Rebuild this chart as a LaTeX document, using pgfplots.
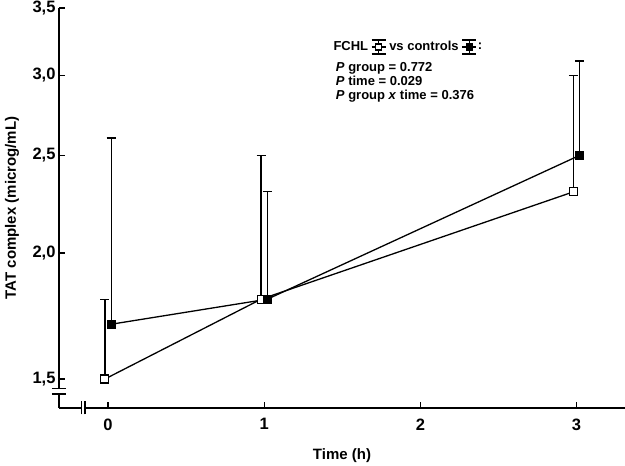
\documentclass[border=0pt]{standalone}
\usepackage{fontspec}
\setmainfont{Liberation Sans}
\usepackage{pgfplots}
\pgfplotsset{compat=1.18}

\begin{document}
\begin{tikzpicture}
\begin{axis}[
    scale only axis,
    width=566pt, height=400pt,
    ymode=log,
    xmin=-0.314, xmax=3.31,
    ymin=1.404, ymax=3.5,
    axis lines=left,
    axis line style={-, line width=1.4pt},
    tick style={line width=1.4pt, black},
    tick align=inside,
    major tick length=6pt,
    yminorticks=false,
    xtick={0,1,2,3},
    xticklabels={0,1,2,3},
    ytick={1.5,2,2.5,3,3.5},
    yticklabels={{1,5},{2,0},{2,5},{3,0},{3,5}},
    ticklabel style={font=\fontsize{16.5}{19}\selectfont\bfseries},
    xticklabel style={yshift=-7pt},
    xlabel={Time (h)},
    ylabel={TAT complex (microg/mL)},
    every axis x label/.style={at={(axis description cs:0.5,-0.118)}, anchor=center,
        font=\fontsize{15}{18}\selectfont\bfseries},
    every axis y label/.style={at={(axis description cs:-0.083,0.5)}, rotate=90, anchor=center,
        font=\fontsize{15}{18}\selectfont\bfseries},
    clip=false,
    legend columns=2,
    legend plot pos=right,
    legend cell align=left,
    legend style={draw=none, fill=none, inner sep=0pt,
        at={(axis description cs:0.482,0.9025)}, anchor=west,
        font=\fontsize{13}{15}\selectfont\bfseries,
        /tikz/column sep=1.5pt,
        nodes={inner sep=1.5pt}},
]

% FCHL
\addplot[black, line width=1.3pt, mark=square*, mark size=4pt,
    mark options={fill=white, line width=1.1pt},
    legend image code/.code={
        \draw[line width=1.1pt] (0pt,0pt)--(14pt,0pt);
        \draw[line width=1.1pt] (7pt,-7pt)--(7pt,7pt) (0pt,7pt)--(14pt,7pt) (0pt,-7pt)--(14pt,-7pt);
        \draw[line width=1.1pt, fill=white] (4pt,-3pt) rectangle (10pt,3pt);
    },
    error bars/.cd, y dir=plus, y explicit,
    error bar style={line width=1.3pt},
    error mark options={line width=1.3pt, mark size=4.5pt, rotate=90}]
coordinates {
    (-0.02,1.5) += (0,0.3)
    (0.98,1.8) += (0,0.7)
    (2.98,2.3) += (0,0.7)
};

% controls
\addplot[black, line width=1.3pt, mark=square*, mark size=4pt,
    mark options={fill=black, line width=1.1pt},
    legend image code/.code={
        \draw[line width=1.1pt] (0pt,0pt)--(14pt,0pt);
        \draw[line width=1.1pt] (7pt,-7pt)--(7pt,7pt) (0pt,7pt)--(14pt,7pt) (0pt,-7pt)--(14pt,-7pt);
        \draw[line width=1.1pt, fill=black] (4pt,-3pt) rectangle (10pt,3pt);
        \node[anchor=west, inner sep=1pt, font=\fontsize{13}{15}\selectfont\bfseries] at (14pt,0pt) {:};
    },
    error bars/.cd, y dir=plus, y explicit,
    error bar style={line width=1.3pt},
    error mark options={line width=1.3pt, mark size=4.5pt, rotate=90}]
coordinates {
    (0.02,1.7) += (0,0.9)
    (1.02,1.8) += (0,0.5)
    (3.02,2.5) += (0,0.6)
};

\legend{FCHL, vs controls}

\node[anchor=north west, align=left, inner sep=0pt,
    font=\fontsize{13}{13.8}\selectfont\bfseries]
    at (axis description cs:0.489,0.864)
    {\textit{P} group = 0.772\\ \textit{P} time = 0.029\\ \textit{P} group \textit{x} time = 0.376};

% axis break positions
\coordinate (yb1) at (axis cs:-0.314,1.4496);
\coordinate (yb2) at (axis cs:-0.314,1.4686);
\coordinate (xb1) at (axis cs:-0.1686,1.404);
\coordinate (xb2) at (axis cs:-0.1474,1.404);
\end{axis}

% axis breaks
\draw[white, line width=4pt, line cap=butt] (yb1) -- (yb2);
\draw[white, line width=4pt, line cap=butt] (xb1) -- (xb2);
\draw[line width=1.3pt] ([xshift=-7pt]yb1) -- ([xshift=7pt]yb1);
\draw[line width=1.3pt] ([xshift=-7pt]yb2) -- ([xshift=7pt]yb2);
\draw[line width=1.3pt] ([yshift=-6.5pt]xb1) -- ([yshift=6.5pt]xb1);
\draw[line width=1.3pt] ([yshift=-6.5pt]xb2) -- ([yshift=6.5pt]xb2);

\pgfresetboundingbox
\path (current axis.south west) ++(-59pt,-58pt) rectangle ++(625pt,466pt);
\end{tikzpicture}
\end{document}
